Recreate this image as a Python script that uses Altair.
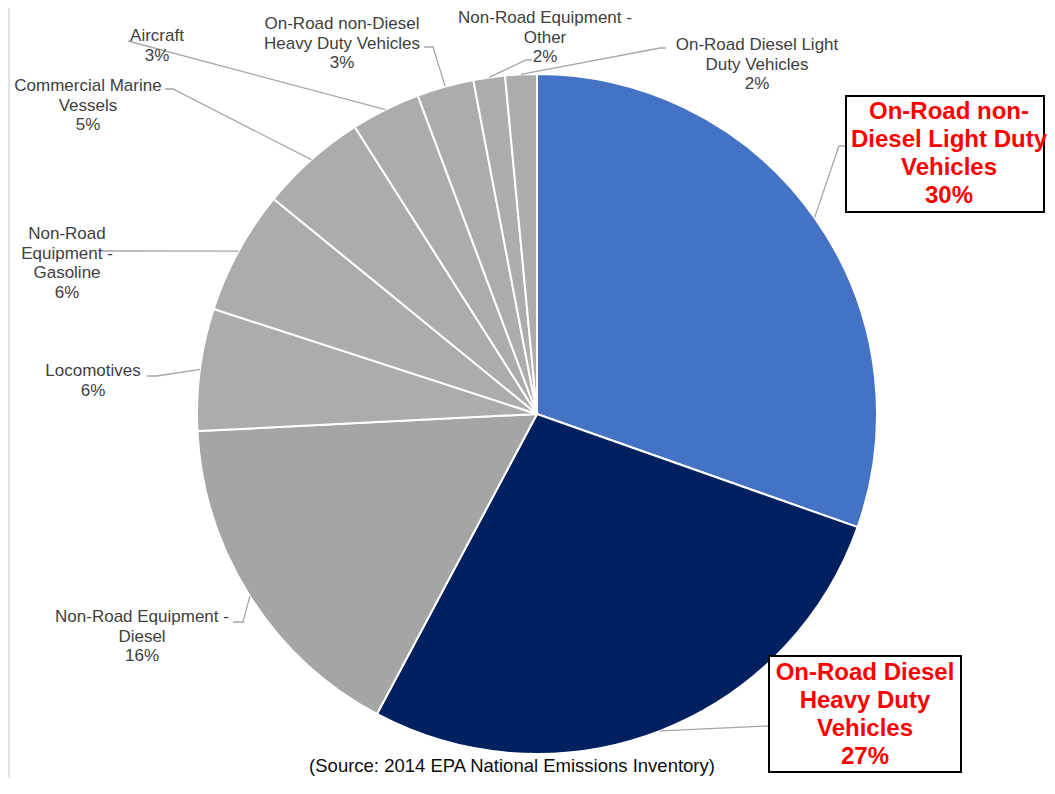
import altair as alt
import pandas as pd
import numpy as np

# ---------------- data ----------------
categories = [
    "On-Road non-Diesel Light Duty Vehicles",
    "On-Road Diesel Heavy Duty Vehicles",
    "Non-Road Equipment - Diesel",
    "Locomotives",
    "Non-Road Equipment - Gasoline",
    "Commercial Marine Vessels",
    "Aircraft",
    "On-Road non-Diesel Heavy Duty Vehicles",
    "Non-Road Equipment - Other",
    "On-Road Diesel Light Duty Vehicles",
]
shares = [30.4, 27.4, 16.4, 5.8, 5.9, 5.1, 3.3, 2.7, 1.5, 1.5]
pct_labels = ["30%", "27%", "16%", "6%", "6%", "5%", "3%", "3%", "2%", "2%"]
# label text as displayed (line-wrapped)
display_names = [
    "On-Road non-\nDiesel Light Duty\nVehicles",
    "On-Road Diesel\nHeavy Duty\nVehicles",
    "Non-Road Equipment -\nDiesel",
    "Locomotives",
    "Non-Road\nEquipment -\nGasoline",
    "Commercial Marine\nVessels",
    "Aircraft",
    "On-Road non-Diesel\nHeavy Duty Vehicles",
    "Non-Road Equipment -\nOther",
    "On-Road Diesel Light\nDuty Vehicles",
]
source_note = "(Source: 2014 EPA National Emissions Inventory)"

# ---------------- style / layout ----------------
colors = ["#4472C4", "#002060", "#A5A5A5", "#AEABAB", "#AEABAB",
          "#AEABAB", "#AEABAB", "#AEABAB", "#AEABAB", "#AEABAB"]
highlight = [True, True, False, False, False, False, False, False, False, False]
W, H = 1039, 770
CX, CY, R = 537, 414, 340
FONT = "Liberation Sans"
# label anchor: centre x, first-line centre y (page px)
label_pos = [(949, 112), (865, 673), (142, 617), (93, 371), (67, 234),
             (88, 86), (157, 36), (342, 24), (545, 18), (757, 45)]
# leader end (near label) and elbow points (page px)
leader_end = [(846, 146), (768, 726), (233, 622), (147, 376), (100, 251),
              (165, 89), (128, 41), (424, 47), (532, 60), (666, 48)]
leader_elbow = [(839, 146), (768, 726), (243, 622), (157, 376), (100, 251),
                (173, 89), (128, 41), (433, 47), (526, 60), (660, 48)]
boxes = [(846, 1044, 96, 212), (769, 961, 656, 772)]
source_pos = (512, 766)

xs = alt.Scale(domain=[8, 8 + W], range=[0, W], nice=False, zero=False)
ys = alt.Scale(domain=[8, 8 + H], nice=False, zero=False, reverse=True)

# ---------------- tables ----------------
pie_df = pd.DataFrame({"category": categories, "share": shares,
                       "idx": range(len(categories))})

tot = float(sum(shares))
cum = np.cumsum([0.0] + shares)
rows = []
for i, c in enumerate(categories):
    mid = (cum[i] + cum[i + 1]) / 2 / tot * 2 * np.pi
    ex, ey = CX + R * np.sin(mid), CY - R * np.cos(mid)
    pts = [(ex, ey), leader_elbow[i], leader_end[i]]
    for s, (px, py) in enumerate(pts):
        rows.append({"category": c, "seq": s, "x": px, "y": py})
leader_df = pd.DataFrame(rows)

lab_df = pd.DataFrame({
    "category": categories,
    "text": [d + "\n" + p for d, p in zip(display_names, pct_labels)],
    "x": [p[0] for p in label_pos],
    "y": [p[1] for p in label_pos],
    "hl": highlight,
})
small_df = lab_df[~lab_df["hl"]]
big_df = lab_df[lab_df["hl"]]

box_df = pd.DataFrame({"x": [b[0] for b in boxes], "x2": [b[1] for b in boxes],
                       "y": [b[2] for b in boxes], "y2": [b[3] for b in boxes]})
src_df = pd.DataFrame({"text": [source_note], "x": [source_pos[0]], "y": [source_pos[1]]})
border_df = pd.DataFrame({"x": [9], "y": [8], "y2": [8 + H]})

# ---------------- layers ----------------
border = alt.Chart(border_df).mark_rule(color="#D9D9D9", strokeWidth=1.5).encode(
    x=alt.X("x:Q", scale=xs, axis=None),
    y=alt.Y("y:Q", scale=ys, axis=None), y2="y2:Q",
)

pie = alt.Chart(pie_df).mark_arc(radius=R, stroke="white", strokeWidth=2).encode(
    theta=alt.Theta("share:Q", stack=True),
    order=alt.Order("idx:Q"),
    color=alt.Color("category:N", scale=alt.Scale(domain=categories, range=colors), legend=None),
    x=alt.X(datum=CX, type="quantitative", scale=xs, axis=None),
    y=alt.Y(datum=CY, type="quantitative", scale=ys, axis=None),
)

leaders = alt.Chart(leader_df).mark_line(color="#A6A6A6", strokeWidth=1.3).encode(
    x=alt.X("x:Q", scale=xs, axis=None),
    y=alt.Y("y:Q", scale=ys, axis=None),
    detail="category:N",
    order="seq:Q",
)

box_layer = alt.Chart(box_df).mark_rect(fill="white", stroke="black", strokeWidth=2).encode(
    x=alt.X("x:Q", scale=xs, axis=None), x2="x2:Q",
    y=alt.Y("y:Q", scale=ys, axis=None), y2="y2:Q",
)

small_text = alt.Chart(small_df).mark_text(
    font=FONT, fontSize=17, color="#404040", lineBreak="\n", lineHeight=19.7,
    align="center", baseline="middle",
).encode(
    x=alt.X("x:Q", scale=xs, axis=None),
    y=alt.Y("y:Q", scale=ys, axis=None),
    text="text:N",
)

big_text = alt.Chart(big_df).mark_text(
    font=FONT, fontSize=24, fontWeight="bold", color="#FF0000", lineBreak="\n",
    lineHeight=28, align="center", baseline="middle",
).encode(
    x=alt.X("x:Q", scale=xs, axis=None),
    y=alt.Y("y:Q", scale=ys, axis=None),
    text="text:N",
)

src_text = alt.Chart(src_df).mark_text(
    font=FONT, fontSize=18.5, color="#0D0D0D", align="center", baseline="middle",
).encode(
    x=alt.X("x:Q", scale=xs, axis=None),
    y=alt.Y("y:Q", scale=ys, axis=None),
    text="text:N",
)

chart = alt.layer(border, pie, leaders, box_layer, small_text, big_text, src_text).properties(
    width=W, height=H, autosize=alt.AutoSizeParams(type="none"), padding=0,
).configure_view(stroke=None)

chart.save("out.html", embed_options={"renderer": "svg", "actions": False})
